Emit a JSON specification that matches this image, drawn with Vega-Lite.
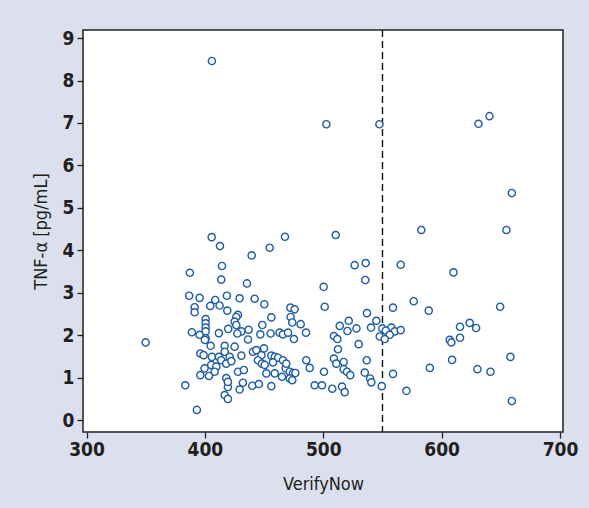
{
  "$schema": "https://vega.github.io/schema/vega-lite/v6.json",
  "autosize": "none",
  "width": 480,
  "height": 402,
  "padding": {"left": 83, "top": 30, "right": 26, "bottom": 76},
  "background": "#dcdfed",
  "config": {
    "view": {"stroke": "#222222", "strokeWidth": 1.5, "fill": "white"},
    "font": "'DejaVu Sans Condensed', 'Liberation Sans', sans-serif",
    "axis": {
      "grid": false,
      "domain": false,
      "tickColor": "#222222",
      "tickSize": 6,
      "tickWidth": 1.3,
      "labelFont": "'DejaVu Sans Condensed', 'Liberation Sans', sans-serif",
      "labelFontSize": 19,
      "labelFontWeight": "bold",
      "labelColor": "#231f20",
      "titleFont": "'DejaVu Sans Condensed', 'Liberation Sans', sans-serif",
      "titleFontSize": 18,
      "titleFontWeight": "bold",
      "titleColor": "#231f20"
    }
  },
  "datasets": {
    "pts": [
      {"VerifyNow": 405.9, "TNF": 8.46}, {"VerifyNow": 502.6, "TNF": 6.97}, {"VerifyNow": 547.4, "TNF": 6.97},
      {"VerifyNow": 631.1, "TNF": 6.98}, {"VerifyNow": 640.4, "TNF": 7.16}, {"VerifyNow": 659.3, "TNF": 5.35},
      {"VerifyNow": 654.7, "TNF": 4.48}, {"VerifyNow": 582.8, "TNF": 4.48}, {"VerifyNow": 405.7, "TNF": 4.31},
      {"VerifyNow": 412.7, "TNF": 4.10}, {"VerifyNow": 439.5, "TNF": 3.88}, {"VerifyNow": 454.7, "TNF": 4.06},
      {"VerifyNow": 467.6, "TNF": 4.32}, {"VerifyNow": 510.5, "TNF": 4.36}, {"VerifyNow": 387.3, "TNF": 3.47},
      {"VerifyNow": 414.4, "TNF": 3.63}, {"VerifyNow": 413.8, "TNF": 3.31}, {"VerifyNow": 435.5, "TNF": 3.22},
      {"VerifyNow": 500.3, "TNF": 3.14}, {"VerifyNow": 526.5, "TNF": 3.65}, {"VerifyNow": 535.8, "TNF": 3.70},
      {"VerifyNow": 565.4, "TNF": 3.66}, {"VerifyNow": 535.5, "TNF": 3.30}, {"VerifyNow": 610.0, "TNF": 3.48},
      {"VerifyNow": 386.7, "TNF": 2.93}, {"VerifyNow": 395.5, "TNF": 2.88}, {"VerifyNow": 418.5, "TNF": 2.93},
      {"VerifyNow": 408.7, "TNF": 2.83}, {"VerifyNow": 429.3, "TNF": 2.87}, {"VerifyNow": 442.0, "TNF": 2.86},
      {"VerifyNow": 450.2, "TNF": 2.73}, {"VerifyNow": 501.2, "TNF": 2.67}, {"VerifyNow": 472.2, "TNF": 2.65},
      {"VerifyNow": 475.8, "TNF": 2.61}, {"VerifyNow": 404.5, "TNF": 2.69}, {"VerifyNow": 412.4, "TNF": 2.70},
      {"VerifyNow": 391.3, "TNF": 2.66}, {"VerifyNow": 391.3, "TNF": 2.54}, {"VerifyNow": 418.9, "TNF": 2.58},
      {"VerifyNow": 427.9, "TNF": 2.48}, {"VerifyNow": 426.5, "TNF": 2.43}, {"VerifyNow": 425.1, "TNF": 2.32},
      {"VerifyNow": 426.5, "TNF": 2.24}, {"VerifyNow": 456.1, "TNF": 2.42}, {"VerifyNow": 472.4, "TNF": 2.43},
      {"VerifyNow": 473.8, "TNF": 2.30}, {"VerifyNow": 480.9, "TNF": 2.26}, {"VerifyNow": 448.5, "TNF": 2.24},
      {"VerifyNow": 400.6, "TNF": 2.38}, {"VerifyNow": 400.6, "TNF": 2.28}, {"VerifyNow": 400.6, "TNF": 2.18},
      {"VerifyNow": 400.6, "TNF": 2.09}, {"VerifyNow": 389.0, "TNF": 2.07}, {"VerifyNow": 411.8, "TNF": 2.05},
      {"VerifyNow": 419.7, "TNF": 2.15}, {"VerifyNow": 395.5, "TNF": 2.01}, {"VerifyNow": 400.6, "TNF": 1.93},
      {"VerifyNow": 349.9, "TNF": 1.83}, {"VerifyNow": 430.8, "TNF": 2.09}, {"VerifyNow": 436.9, "TNF": 2.13},
      {"VerifyNow": 427.4, "TNF": 2.04}, {"VerifyNow": 446.8, "TNF": 2.02}, {"VerifyNow": 455.5, "TNF": 2.04},
      {"VerifyNow": 463.1, "TNF": 2.06}, {"VerifyNow": 465.9, "TNF": 2.02}, {"VerifyNow": 470.2, "TNF": 2.06},
      {"VerifyNow": 485.4, "TNF": 2.06}, {"VerifyNow": 436.4, "TNF": 1.90}, {"VerifyNow": 475.2, "TNF": 1.91},
      {"VerifyNow": 576.4, "TNF": 2.80}, {"VerifyNow": 558.9, "TNF": 2.65}, {"VerifyNow": 589.1, "TNF": 2.58},
      {"VerifyNow": 536.9, "TNF": 2.52}, {"VerifyNow": 544.8, "TNF": 2.34}, {"VerifyNow": 521.5, "TNF": 2.34},
      {"VerifyNow": 513.9, "TNF": 2.22}, {"VerifyNow": 520.4, "TNF": 2.10}, {"VerifyNow": 528.0, "TNF": 2.16},
      {"VerifyNow": 540.3, "TNF": 2.18}, {"VerifyNow": 549.9, "TNF": 2.16}, {"VerifyNow": 557.5, "TNF": 2.18},
      {"VerifyNow": 552.8, "TNF": 2.11}, {"VerifyNow": 560.4, "TNF": 2.09}, {"VerifyNow": 565.4, "TNF": 2.12},
      {"VerifyNow": 556.1, "TNF": 2.01}, {"VerifyNow": 547.7, "TNF": 1.97}, {"VerifyNow": 551.9, "TNF": 1.91},
      {"VerifyNow": 509.0, "TNF": 1.98}, {"VerifyNow": 511.9, "TNF": 1.91}, {"VerifyNow": 529.9, "TNF": 1.79},
      {"VerifyNow": 615.5, "TNF": 2.20}, {"VerifyNow": 615.5, "TNF": 1.94}, {"VerifyNow": 606.8, "TNF": 1.89},
      {"VerifyNow": 608.2, "TNF": 1.83}, {"VerifyNow": 623.7, "TNF": 2.29}, {"VerifyNow": 629.1, "TNF": 2.17},
      {"VerifyNow": 649.4, "TNF": 2.67}, {"VerifyNow": 512.4, "TNF": 1.67}, {"VerifyNow": 509.0, "TNF": 1.45},
      {"VerifyNow": 511.0, "TNF": 1.33}, {"VerifyNow": 517.2, "TNF": 1.37}, {"VerifyNow": 517.2, "TNF": 1.20},
      {"VerifyNow": 520.0, "TNF": 1.14}, {"VerifyNow": 522.8, "TNF": 1.06}, {"VerifyNow": 536.7, "TNF": 1.41},
      {"VerifyNow": 535.0, "TNF": 1.12}, {"VerifyNow": 539.5, "TNF": 0.98}, {"VerifyNow": 540.6, "TNF": 0.89},
      {"VerifyNow": 549.4, "TNF": 0.80}, {"VerifyNow": 558.9, "TNF": 1.09}, {"VerifyNow": 570.2, "TNF": 0.69},
      {"VerifyNow": 590.0, "TNF": 1.23}, {"VerifyNow": 608.8, "TNF": 1.42}, {"VerifyNow": 507.6, "TNF": 0.74},
      {"VerifyNow": 515.8, "TNF": 0.79}, {"VerifyNow": 518.1, "TNF": 0.66}, {"VerifyNow": 658.1, "TNF": 1.49},
      {"VerifyNow": 630.2, "TNF": 1.20}, {"VerifyNow": 641.2, "TNF": 1.14}, {"VerifyNow": 659.3, "TNF": 0.45},
      {"VerifyNow": 400.0, "TNF": 1.89}, {"VerifyNow": 404.8, "TNF": 1.75}, {"VerifyNow": 416.7, "TNF": 1.75},
      {"VerifyNow": 396.1, "TNF": 1.57}, {"VerifyNow": 398.9, "TNF": 1.53}, {"VerifyNow": 405.9, "TNF": 1.49},
      {"VerifyNow": 411.8, "TNF": 1.49}, {"VerifyNow": 416.7, "TNF": 1.61}, {"VerifyNow": 413.8, "TNF": 1.41},
      {"VerifyNow": 418.0, "TNF": 1.33}, {"VerifyNow": 405.3, "TNF": 1.30}, {"VerifyNow": 409.6, "TNF": 1.26},
      {"VerifyNow": 399.7, "TNF": 1.22}, {"VerifyNow": 408.2, "TNF": 1.14}, {"VerifyNow": 396.1, "TNF": 1.06},
      {"VerifyNow": 403.4, "TNF": 1.04}, {"VerifyNow": 418.0, "TNF": 0.99}, {"VerifyNow": 419.4, "TNF": 0.78},
      {"VerifyNow": 416.7, "TNF": 0.59}, {"VerifyNow": 419.4, "TNF": 0.50}, {"VerifyNow": 383.4, "TNF": 0.82},
      {"VerifyNow": 393.2, "TNF": 0.24}, {"VerifyNow": 425.1, "TNF": 1.73}, {"VerifyNow": 420.9, "TNF": 1.49},
      {"VerifyNow": 422.3, "TNF": 1.39}, {"VerifyNow": 430.8, "TNF": 1.52}, {"VerifyNow": 419.4, "TNF": 0.90},
      {"VerifyNow": 427.9, "TNF": 1.14}, {"VerifyNow": 432.9, "TNF": 1.18}, {"VerifyNow": 432.1, "TNF": 0.88},
      {"VerifyNow": 429.3, "TNF": 0.72}, {"VerifyNow": 440.0, "TNF": 0.81}, {"VerifyNow": 445.6, "TNF": 0.85},
      {"VerifyNow": 456.1, "TNF": 0.80}, {"VerifyNow": 451.9, "TNF": 1.10}, {"VerifyNow": 459.0, "TNF": 1.10},
      {"VerifyNow": 465.1, "TNF": 1.02}, {"VerifyNow": 468.2, "TNF": 1.22}, {"VerifyNow": 471.6, "TNF": 1.14},
      {"VerifyNow": 474.4, "TNF": 1.11}, {"VerifyNow": 476.4, "TNF": 1.11}, {"VerifyNow": 471.6, "TNF": 0.98},
      {"VerifyNow": 473.8, "TNF": 0.94}, {"VerifyNow": 440.6, "TNF": 1.61}, {"VerifyNow": 443.4, "TNF": 1.65},
      {"VerifyNow": 447.7, "TNF": 1.53}, {"VerifyNow": 444.8, "TNF": 1.41}, {"VerifyNow": 448.2, "TNF": 1.33},
      {"VerifyNow": 450.5, "TNF": 1.30}, {"VerifyNow": 449.9, "TNF": 1.69}, {"VerifyNow": 456.1, "TNF": 1.52},
      {"VerifyNow": 459.0, "TNF": 1.49}, {"VerifyNow": 461.8, "TNF": 1.47}, {"VerifyNow": 457.5, "TNF": 1.36},
      {"VerifyNow": 465.9, "TNF": 1.41}, {"VerifyNow": 468.7, "TNF": 1.33}, {"VerifyNow": 485.6, "TNF": 1.41},
      {"VerifyNow": 488.5, "TNF": 1.23}, {"VerifyNow": 500.6, "TNF": 1.14}, {"VerifyNow": 492.7, "TNF": 0.82},
      {"VerifyNow": 498.9, "TNF": 0.82}
    ],
    "cut": [{"VerifyNow": 550}]
  },
  "layer": [
    {
      "data": {"name": "cut"},
      "mark": {"type": "rule", "color": "#111111", "strokeWidth": 1.4, "strokeDash": [7, 4]},
      "encoding": {
        "x": {"field": "VerifyNow", "type": "quantitative", "scale": {"domain": [297, 702.5], "nice": false, "zero": false}}
      }
    },
    {
      "data": {"name": "pts"},
      "mark": {"type": "point", "shape": "circle", "filled": false, "fill": "white", "fillOpacity": 1, "stroke": "#1b5ca3", "strokeWidth": 1.4, "size": 52, "opacity": 1},
      "encoding": {
        "x": {
          "field": "VerifyNow", "type": "quantitative",
          "scale": {"domain": [297, 702.5], "nice": false, "zero": false},
          "axis": {"values": [300, 400, 500, 600, 700], "title": "VerifyNow", "labelPadding": 2, "titlePadding": 16, "titleFontWeight": "normal"}
        },
        "y": {
          "field": "TNF", "type": "quantitative",
          "scale": {"domain": [-0.28, 9.19], "nice": false, "zero": false},
          "axis": {"values": [0, 1, 2, 3, 4, 5, 6, 7, 8, 9], "title": "TNF-α [pg/mL]", "labelPadding": 3, "titlePadding": 12, "titleFontWeight": "normal"}
        }
      }
    }
  ]
}
